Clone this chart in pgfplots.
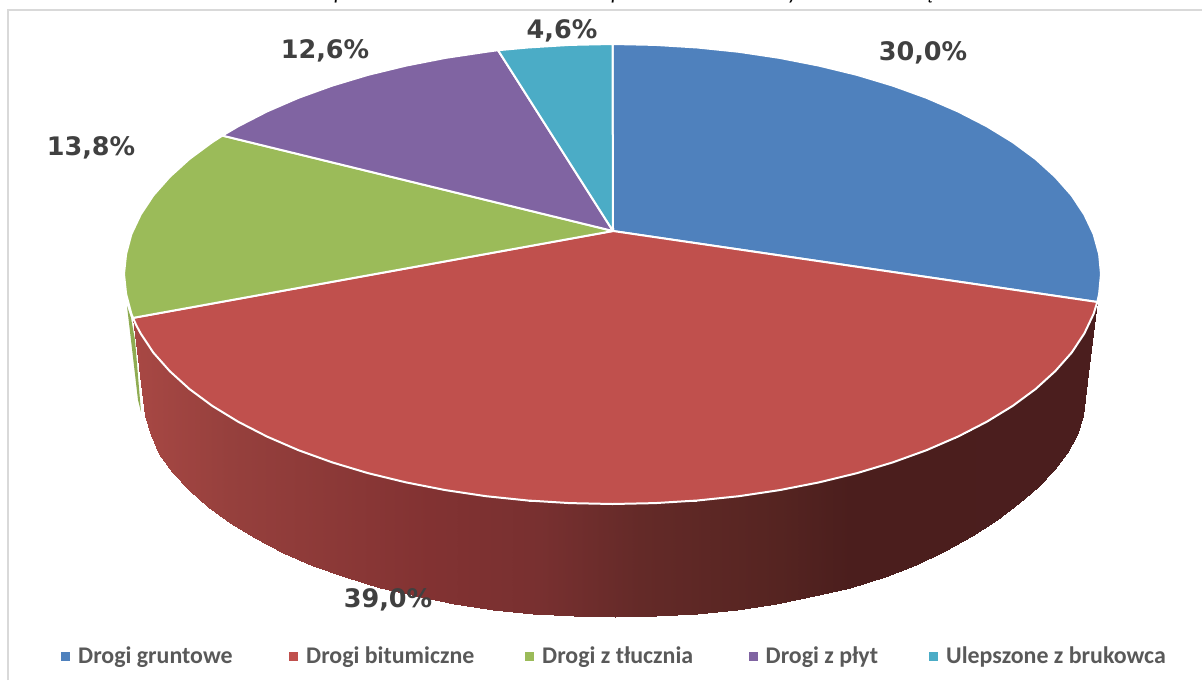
\documentclass[border=0pt]{standalone}
\usepackage{fontspec}
\setmainfont{Carlito}
\newfontfamily\labfont{DejaVu Sans}
\usepackage{pgfplots}
\pgfplotsset{compat=1.18}
\definecolor{cblue}{HTML}{4F81BD}
\definecolor{cred}{HTML}{C0504D}
\definecolor{cgreen}{HTML}{9BBB59}
\definecolor{cpurple}{HTML}{8064A2}
\definecolor{cteal}{HTML}{4BACC6}
\newcommand{\lab}[3]{\node[text=black!75,font=\labfont\bfseries\fontsize{25.5}{25.5}\selectfont] at (axis cs:#1,#2) {#3};}
\newcommand{\leg}[2]{\node[anchor=base west,inner sep=0pt,text=black!65,font=\bfseries\fontsize{23.9}{24}\selectfont] at (axis cs:#1,663) {#2};}
\begin{document}
\begin{tikzpicture}
\path[use as bounding box] (0,0) rectangle (1202pt,680pt);
\begin{axis}[
  scale only axis, width=1202pt, height=680pt,
  xmin=0, xmax=1202, ymin=0, ymax=680, y dir=reverse,
  hide axis, clip mode=global,
  colormap={side}{rgb255(0)=(168,72,68) rgb255(97)=(150,64,61) rgb255(297)=(130,50,50) rgb255(407)=(120,48,48) rgb255(507)=(100,42,40) rgb255(647)=(85,36,33) rgb255(717)=(75,30,29) rgb255(967)=(75,30,30)},
  point meta min=133, point meta max=1100,
]
% frame
\addplot[draw=black!15, line width=2pt] coordinates {(7.5,680) (7.5,10) (1202,10)};
% green sliver behind the red side
\addplot[fill=cgreen!92!black, draw=none] coordinates {(127,306) (131,318) (135,340) (141,412) (138,400) (127,306)};
% side of the red slice: top edge, then bottom edge
\addplot[surf, shader=interp, mesh/rows=2, point meta=x] table {
x y
1097.3 302.0
1096.3 306.0
1093.6 313.9
1084.3 333.5
1071.6 352.7
1055.2 371.2
1035.6 389.0
1012.7 405.9
986.7 421.8
957.9 436.6
926.5 450.2
892.7 462.4
856.8 473.2
818.9 482.4
779.6 490.1
738.9 496.2
697.3 500.5
655.1 503.1
612.5 504.0
569.9 503.1
527.7 500.5
486.1 496.2
445.4 490.1
406.1 482.4
368.2 473.2
332.3 462.4
298.5 450.2
267.1 436.6
238.3 421.8
212.3 405.9
189.4 389.0
169.8 371.2
153.4 352.7
140.7 333.5
136.5 325.7
134.7 321.8
133.0 317.9
1085.0 397.0
1083.2 416.2
1077.0 435.2
1067.0 453.0
1054.0 470.0
1038.0 487.0
1019.0 503.0
997.0 519.5
972.0 535.5
945.0 550.5
916.0 564.5
884.6 577.2
850.0 587.5
813.6 596.4
775.7 603.7
736.6 609.5
696.6 613.7
656.0 616.2
615.0 617.0
574.0 616.2
533.4 613.7
493.4 609.5
454.3 603.7
416.4 596.4
380.0 587.5
345.4 577.2
312.9 565.5
282.7 552.6
255.0 538.4
230.0 523.2
208.0 507.0
189.0 490.0
172.0 472.2
159.0 453.9
150.5 435.2
145.5 416.2
144.0 397.0
};
% top face
\addplot[fill=cblue, draw=white, line width=2pt, line join=round] coordinates {
(613,231) (612.5,44) (655.1,44.9) (697.3,47.5) (738.9,51.8) (779.6,57.9) (818.9,65.6) (856.8,74.8) (892.7,85.6) (926.5,97.8) (957.9,111.4) (986.7,126.2) (1012.7,142.1) (1035.6,159) (1055.2,176.8) (1071.6,195.3) (1084.3,214.5) (1093.6,234.1) (1099.1,254) (1101,274) (1099.1,294) (1097.3,302) (613,231)};
\addplot[fill=cred, draw=white, line width=2pt, line join=round] coordinates {
(613,231) (1097.3,302) (1093.6,313.9) (1084.3,333.5) (1071.6,352.7) (1055.2,371.2) (1035.6,389) (1012.7,405.9) (986.7,421.8) (957.9,436.6) (926.5,450.2) (892.7,462.4) (856.8,473.2) (818.9,482.4) (779.6,490.1) (738.9,496.2) (697.3,500.5) (655.1,503.1) (612.5,504) (569.9,503.1) (527.7,500.5) (486.1,496.2) (445.4,490.1) (406.1,482.4) (368.2,473.2) (332.3,462.4) (298.5,450.2) (267.1,436.6) (238.3,421.8) (212.3,405.9) (189.4,389) (169.8,371.2) (153.4,352.7) (140.7,333.5) (136.5,325.7) (133,317.9) (613,231)};
\addplot[fill=cgreen, draw=white, line width=2pt, line join=round] coordinates {
(613,231) (133,317.9) (131.4,313.9) (126.1,294) (124,274) (126.1,254) (131.4,234.1) (140.7,214.5) (153.4,195.3) (169.8,176.8) (189.4,159) (212.3,142.1) (222.4,135.6) (613,231)};
\addplot[fill=cpurple, draw=white, line width=2pt, line join=round] coordinates {
(613,231) (222.4,135.6) (238.3,126.2) (267.1,111.4) (298.5,97.8) (332.3,85.6) (368.2,74.8) (406.1,65.6) (445.4,57.9) (486.1,51.8) (498,50.2) (613,231)};
\addplot[fill=cteal, draw=white, line width=2pt, line join=round] coordinates {
(613,231) (498,50.2) (527.7,47.5) (569.9,44.9) (612.5,44) (613,231)};
% data labels
\lab{923}{53}{30,0\%}
\lab{562}{31}{4,6\%}
\lab{325}{51}{12,6\%}
\lab{91}{148}{13,8\%}
\lab{388}{600}{39,0\%}
% legend
\addplot[only marks, mark=square*, mark size=4pt, cblue, mark options={draw=none}] coordinates {(65.5,656)};
\addplot[only marks, mark=square*, mark size=4pt, cred, mark options={draw=none}] coordinates {(293.5,656)};
\addplot[only marks, mark=square*, mark size=4pt, cgreen, mark options={draw=none}] coordinates {(529,656)};
\addplot[only marks, mark=square*, mark size=4pt, cpurple, mark options={draw=none}] coordinates {(753,656)};
\addplot[only marks, mark=square*, mark size=4pt, cteal, mark options={draw=none}] coordinates {(933.5,656)};
\leg{78}{Drogi gruntowe}
\leg{306}{Drogi bitumiczne}
\leg{542}{Drogi z tłucznia}
\leg{765.5}{Drogi z płyt}
\leg{946}{Ulepszone z brukowca}
% the title is cut off by the top edge, only these descenders show
\node[anchor=base,inner sep=0pt,font=\itshape\fontsize{22}{22}\selectfont] at (axis cs:340,0) {p};
\node[anchor=base,inner sep=0pt,font=\itshape\fontsize{22}{22}\selectfont] at (axis cs:617,0) {p};
\node[anchor=base,inner sep=0pt,font=\itshape\fontsize{22}{22}\selectfont] at (axis cs:793,0) {y};
\node[anchor=base,inner sep=0pt,font=\itshape\fontsize{22}{22}\selectfont] at (axis cs:928,0) {ą};
\end{axis}
\end{tikzpicture}
\end{document}
